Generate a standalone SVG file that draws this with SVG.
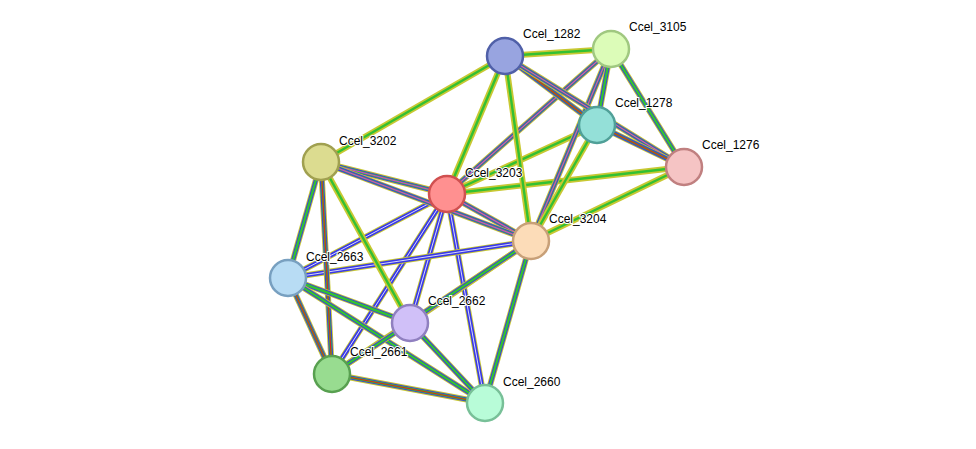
<svg xmlns="http://www.w3.org/2000/svg" xmlns:xlink="http://www.w3.org/1999/xlink" width="976" height="449" viewBox="0 0 976 449">
<style>
.y{stroke:#c8c832;stroke-width:6;fill:none}
.b{stroke:#3838e8;stroke-width:4.2;fill:none}
.g{stroke:#33c033;stroke-width:2.4;fill:none}
.m{stroke:#e030e0;stroke-width:1.1;fill:none}
.r{stroke:#e02020;stroke-width:1.1;fill:none}
.w{stroke:#fff;stroke-width:0.8;fill:none}
.n{stroke-width:2.5}
text{font-family:"Liberation Sans",Arial,sans-serif;font-size:12px;fill:#000;paint-order:stroke;stroke:#fff;stroke-width:2px}
</style>
<defs>
<line id="e1" x1="447" y1="194" x2="505" y2="56"/>
<line id="e2" x1="447" y1="194" x2="611" y2="49"/>
<line id="e3" x1="447" y1="194" x2="597" y2="125"/>
<line id="e4" x1="447" y1="194" x2="684" y2="167"/>
<line id="e5" x1="447" y1="194" x2="321" y2="162"/>
<line id="e6" x1="447" y1="194" x2="531" y2="241"/>
<line id="e7" x1="447" y1="194" x2="288" y2="278"/>
<line id="e8" x1="447" y1="194" x2="410" y2="323"/>
<line id="e9" x1="447" y1="194" x2="332" y2="374"/>
<line id="e10" x1="447" y1="194" x2="485" y2="403"/>
<line id="e11" x1="531" y1="241" x2="505" y2="56"/>
<line id="e12" x1="531" y1="241" x2="611" y2="49"/>
<line id="e13" x1="531" y1="241" x2="597" y2="125"/>
<line id="e14" x1="531" y1="241" x2="684" y2="167"/>
<line id="e15" x1="531" y1="241" x2="321" y2="162"/>
<line id="e16" x1="531" y1="241" x2="288" y2="278"/>
<line id="e17" x1="531" y1="241" x2="410" y2="323"/>
<line id="e18" x1="531" y1="241" x2="332" y2="374"/>
<line id="e19" x1="531" y1="241" x2="485" y2="403"/>
<line id="e20" x1="505" y1="56" x2="611" y2="49"/>
<line id="e21" x1="505" y1="56" x2="597" y2="125"/>
<line id="e22" x1="505" y1="56" x2="684" y2="167"/>
<line id="e23" x1="505" y1="56" x2="321" y2="162"/>
<line id="e24" x1="611" y1="49" x2="597" y2="125"/>
<line id="e25" x1="611" y1="49" x2="684" y2="167"/>
<line id="e26" x1="597" y1="125" x2="684" y2="167"/>
<line id="e27" x1="321" y1="162" x2="288" y2="278"/>
<line id="e28" x1="321" y1="162" x2="410" y2="323"/>
<line id="e29" x1="321" y1="162" x2="332" y2="374"/>
<line id="e30" x1="288" y1="278" x2="410" y2="323"/>
<line id="e31" x1="288" y1="278" x2="332" y2="374"/>
<line id="e32" x1="288" y1="278" x2="485" y2="403"/>
<line id="e33" x1="410" y1="323" x2="332" y2="374"/>
<line id="e34" x1="410" y1="323" x2="485" y2="403"/>
<line id="e35" x1="332" y1="374" x2="485" y2="403"/>
</defs>
<g id="connectors">
<use href="#e1" class="y"/><use href="#e1" class="g"/>
<use href="#e2" class="y"/><use href="#e2" class="b"/><use href="#e2" class="g"/><use href="#e2" class="m"/>
<use href="#e3" class="y"/><use href="#e3" class="g"/>
<use href="#e4" class="y"/><use href="#e4" class="g"/>
<use href="#e5" class="y"/><use href="#e5" class="b"/><use href="#e5" class="g"/><use href="#e5" class="m"/>
<use href="#e6" class="y"/><use href="#e6" class="b"/><use href="#e6" class="g"/><use href="#e6" class="m"/>
<use href="#e7" class="y"/><use href="#e7" class="b"/><use href="#e7" class="w"/>
<use href="#e8" class="y"/><use href="#e8" class="b"/><use href="#e8" class="w"/>
<use href="#e9" class="y"/><use href="#e9" class="b"/><use href="#e9" class="w"/>
<use href="#e10" class="y"/><use href="#e10" class="b"/><use href="#e10" class="w"/>
<use href="#e11" class="y"/><use href="#e11" class="g"/>
<use href="#e12" class="y"/><use href="#e12" class="b"/><use href="#e12" class="g"/><use href="#e12" class="m"/>
<use href="#e13" class="y"/><use href="#e13" class="g"/>
<use href="#e14" class="y"/><use href="#e14" class="g"/>
<use href="#e15" class="y"/><use href="#e15" class="b"/><use href="#e15" class="g"/><use href="#e15" class="m"/>
<use href="#e16" class="y"/><use href="#e16" class="b"/><use href="#e16" class="w"/>
<use href="#e17" class="y"/><use href="#e17" class="b"/><use href="#e17" class="g"/>
<use href="#e18" class="y"/><use href="#e18" class="b"/><use href="#e18" class="g"/>
<use href="#e19" class="y"/><use href="#e19" class="b"/><use href="#e19" class="g"/>
<use href="#e20" class="y"/><use href="#e20" class="g"/>
<use href="#e21" class="y"/><use href="#e21" class="b"/><use href="#e21" class="g"/><use href="#e21" class="r"/>
<use href="#e22" class="y"/><use href="#e22" class="b"/><use href="#e22" class="g"/><use href="#e22" class="m"/>
<use href="#e23" class="y"/><use href="#e23" class="g"/>
<use href="#e24" class="y"/><use href="#e24" class="b"/><use href="#e24" class="g"/>
<use href="#e25" class="y"/><use href="#e25" class="b"/><use href="#e25" class="g"/>
<use href="#e26" class="y"/><use href="#e26" class="b"/><use href="#e26" class="g"/><use href="#e26" class="r"/>
<use href="#e27" class="y"/><use href="#e27" class="b"/><use href="#e27" class="g"/>
<use href="#e28" class="y"/><use href="#e28" class="g"/>
<use href="#e29" class="y"/><use href="#e29" class="b"/><use href="#e29" class="g"/><use href="#e29" class="r"/>
<use href="#e30" class="y"/><use href="#e30" class="b"/><use href="#e30" class="g"/>
<use href="#e31" class="y"/><use href="#e31" class="b"/><use href="#e31" class="g"/><use href="#e31" class="r"/>
<use href="#e32" class="y"/><use href="#e32" class="b"/><use href="#e32" class="g"/>
<use href="#e33" class="y"/><use href="#e33" class="b"/><use href="#e33" class="g"/>
<use href="#e34" class="y"/><use href="#e34" class="b"/><use href="#e34" class="g"/>
<use href="#e35" class="y"/><use href="#e35" class="b"/><use href="#e35" class="g"/><use href="#e35" class="r"/>
</g>
<g id="Ccel_1282"><circle class="n" cx="505" cy="56" r="18" fill="#98a4e0" stroke="#5060a8"/><text x="523" y="38">Ccel_1282</text></g>
<g id="Ccel_3105"><circle class="n" cx="611" cy="49" r="18" fill="#dcfcb8" stroke="#a0c880"/><text x="629" y="31">Ccel_3105</text></g>
<g id="Ccel_1278"><circle class="n" cx="597" cy="125" r="18" fill="#94e0d8" stroke="#50a098"/><text x="615" y="107">Ccel_1278</text></g>
<g id="Ccel_1276"><circle class="n" cx="684" cy="167" r="18" fill="#f5c4c4" stroke="#c08080"/><text x="702" y="149">Ccel_1276</text></g>
<g id="Ccel_3202"><circle class="n" cx="321" cy="162" r="18" fill="#dcdc90" stroke="#a0a050"/><text x="339" y="145">Ccel_3202</text></g>
<g id="Ccel_3203"><circle class="n" cx="447" cy="194" r="18" fill="#ff9090" stroke="#d05050"/><text x="465" y="177">Ccel_3203</text></g>
<g id="Ccel_3204"><circle class="n" cx="531" cy="241" r="18" fill="#fcdcb8" stroke="#c8a078"/><text x="549" y="223">Ccel_3204</text></g>
<g id="Ccel_2663"><circle class="n" cx="288" cy="278" r="18" fill="#b8dcf4" stroke="#78a0c0"/><text x="306" y="261">Ccel_2663</text></g>
<g id="Ccel_2662"><circle class="n" cx="410" cy="323" r="18" fill="#d0c0f8" stroke="#9080c0"/><text x="428" y="305">Ccel_2662</text></g>
<g id="Ccel_2661"><circle class="n" cx="332" cy="374" r="18" fill="#98dc90" stroke="#58a050"/><text x="350" y="356">Ccel_2661</text></g>
<g id="Ccel_2660"><circle class="n" cx="485" cy="403" r="18" fill="#b8fcd8" stroke="#78c098"/><text x="503" y="386">Ccel_2660</text></g>
</svg>
